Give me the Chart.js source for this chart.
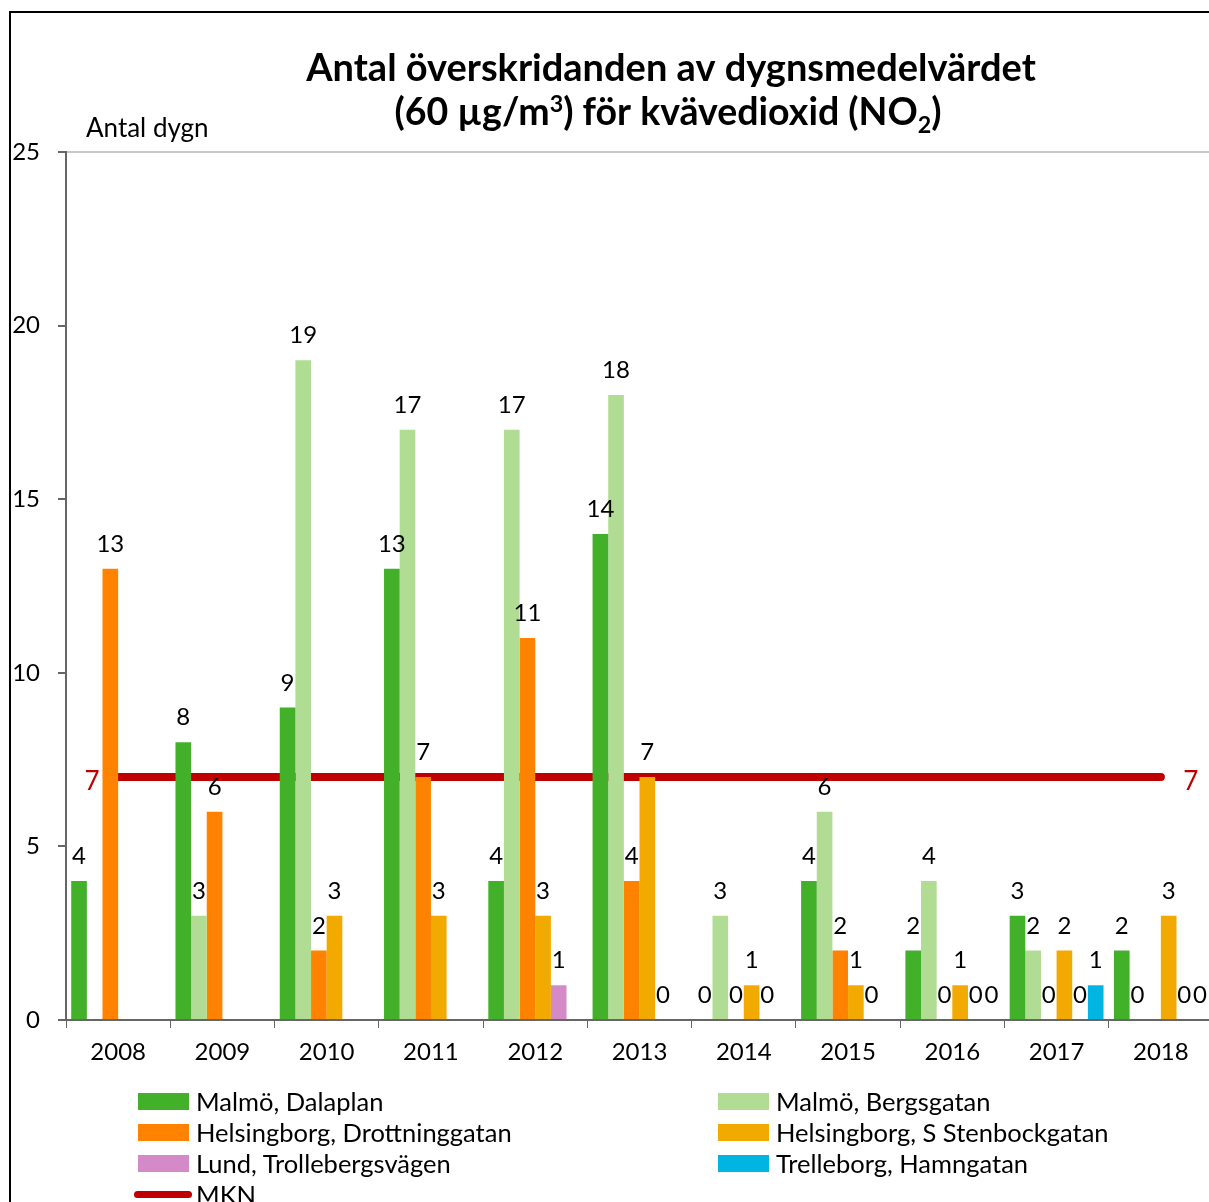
<!DOCTYPE html>
<html>
<head>
<meta charset="utf-8">
<script src="https://cdn.jsdelivr.net/npm/chart.js@4.4.0/dist/chart.umd.min.js"></script>
<style>
body { margin: 0; width: 1209px; height: 1202px; overflow: hidden; background: #fff; font-family: Lato, sans-serif; }
#frame { position: absolute; left: 9px; top: 11px; width: 1300px; height: 1300px; border-left: 2px solid #000; border-top: 2px solid #000; }
#wrap { position: absolute; left: 0; top: 0; width: 1209px; height: 1080px; overflow: hidden; }
#legend { position: absolute; left: 0; top: 0; width: 1209px; height: 1202px; pointer-events: none; }
.item { position: absolute; display: flex; align-items: center; font-size: 25.5px; color: #000; height: 30px; white-space: nowrap; }
.box { width: 51px; height: 17px; margin-right: 7px; }
.lineSwatch { width: 58px; height: 7px; border-radius: 4px; margin-right: 4px; margin-left: -4px; }
</style>
</head>
<body>
<div id="frame"></div>
<div id="wrap"><canvas id="chart" width="1213" height="1080"></canvas></div>
<div id="legend"></div>
<script>
const years = ["2008", "2009", "2010", "2011", "2012", "2013", "2014", "2015", "2016", "2017", "2018"];
const dalaplan = [4, 8, 9, 13, 4, 14, 0, 4, 2, 3, 2];
const bergsgatan = [null, 3, 19, 17, 17, 18, 3, 6, 4, 2, 0];
const drottninggatan = [13, 6, 2, 7, 11, 4, 0, 2, 0, 0, null];
const stenbockgatan = [null, null, 3, 3, 3, 7, 1, 1, 1, 2, 3];
const lund = [null, null, null, null, 1, 0, 0, 0, 0, 0, 0];
const trelleborg = [null, null, null, null, null, null, null, null, 0, 1, 0];
const mkn = [7, 7, 7, 7, 7, 7, 7, 7, 7, 7, 7];
const yTicks = [0, 5, 10, 15, 20, 25];

const FONT = "Lato, sans-serif";

// titel, axeltitel, etiketter
const labelPlugin = {
    id: "labels",
    afterDraw(chart) {
        const ctx = chart.ctx;
        ctx.save();
        ctx.fillStyle = "#000";

        // titel med upphöjt/nedsänkt
        const drawLine = (parts, cx, base, size) => {
            let total = 0;
            parts.forEach(p => {
                ctx.font = "bold " + (p[1] === "n" ? size : size * 0.62) + "px " + FONT;
                total += ctx.measureText(p[0]).width;
            });
            let x = cx - total / 2;
            ctx.textAlign = "left";
            ctx.textBaseline = "alphabetic";
            parts.forEach(p => {
                ctx.font = "bold " + (p[1] === "n" ? size : size * 0.62) + "px " + FONT;
                let y = base;
                if (p[1] === "sup") y = base - size * 0.36;
                if (p[1] === "sub") y = base + size * 0.2;
                ctx.fillText(p[0], x, y);
                x += ctx.measureText(p[0]).width;
            });
        };
        drawLine([["Antal överskridanden av dygnsmedelvärdet", "n"]], 671, 81, 38);
        drawLine([["(60 µg/m", "n"], ["3", "sup"], [") för kvävedioxid (NO", "n"], ["2", "sub"], [")", "n"]], 668, 125, 37.5);

        ctx.font = "26px " + FONT;
        ctx.textAlign = "left";
        ctx.fillText("Antal dygn", 86, 137);

        // värden över staplarna
        ctx.font = "24px " + FONT;
        ctx.textAlign = "center";
        chart.data.datasets.forEach((ds, i) => {
            if (ds.type === "line") return;
            const meta = chart.getDatasetMeta(i);
            meta.data.forEach((bar, j) => {
                const v = ds.data[j];
                if (v === null || v === undefined) return;
                ctx.fillText(String(v), bar.x, bar.y - 17);
            });
        });

        // MKN-etiketter
        const li = chart.data.datasets.findIndex(d => d.type === "line");
        const pts = chart.getDatasetMeta(li).data;
        ctx.fillStyle = "#c00000";
        ctx.font = "26px " + FONT;
        ctx.fillText(String(mkn[0]), pts[0].x - 26, pts[0].y + 13);
        ctx.fillText(String(mkn[mkn.length - 1]), pts[pts.length - 1].x + 30, pts[pts.length - 1].y + 13);
        ctx.restore();
    }
};

const chart = new Chart(document.getElementById("chart"), {
    type: "bar",
    data: {
        labels: years,
        datasets: [
            { label: "Malmö, Dalaplan", data: dalaplan, backgroundColor: "#43b02a" },
            { label: "Malmö, Bergsgatan", data: bergsgatan, backgroundColor: "#b0dd93" },
            { label: "Helsingborg, Drottninggatan", data: drottninggatan, backgroundColor: "#ff8200" },
            { label: "Helsingborg, S Stenbockgatan", data: stenbockgatan, backgroundColor: "#f2a900" },
            { label: "Lund, Trollebergsvägen", data: lund, backgroundColor: "#d58ac8" },
            { label: "Trelleborg, Hamngatan", data: trelleborg, backgroundColor: "#00b5e2" },
            {
                type: "line", label: "MKN", data: mkn,
                borderColor: "#c00000", backgroundColor: "#c00000",
                borderWidth: 8, pointRadius: 0, borderCapStyle: "round", order: 0
            }
        ]
    },
    options: {
        responsive: false,
        animation: false,
        layout: { autoPadding: false, padding: { left: 10, top: 152, right: 0, bottom: 0 } },
        datasets: { bar: { categoryPercentage: 0.9, barPercentage: 1, order: 1 } },
        plugins: { legend: { display: false }, tooltip: { enabled: false } },
        scales: {
            x: {
                grid: { color: "rgba(0,0,0,0)", tickColor: "#666", tickLength: 8, offset: true },
                border: { color: "#666", width: 2 },
                ticks: { color: "#000", font: { family: FONT, size: 24 }, padding: 10, maxRotation: 0 },
                afterFit: s => { s.height = 60; s.paddingLeft = 0; s.paddingRight = 0; }
            },
            y: {
                min: 0, max: 25,
                afterBuildTicks: s => { s.ticks = yTicks.map(v => ({ value: v })); },
                ticks: { color: "#000", font: { family: FONT, size: 24 }, padding: 18 },
                grid: { color: c => c.tick && c.tick.value === 25 ? "#c8c8c8" : "rgba(0,0,0,0)", tickColor: "#666", tickLength: 8, lineWidth: 2 },
                border: { color: "#666", width: 2 },
                afterFit: s => { s.width = 56; }
            }
        }
    },
    plugins: [labelPlugin]
});

// legend i två kolumner
const legend = document.getElementById("legend");
chart.data.datasets.forEach((ds, i) => {
    const col = i % 2, row = Math.floor(i / 2);
    const item = document.createElement("div");
    item.className = "item";
    item.style.left = (col === 0 ? 138 : 718) + "px";
    item.style.top = (1086 + row * 31) + "px";
    const sw = document.createElement("div");
    if (ds.type === "line") {
        sw.className = "lineSwatch";
        sw.style.background = ds.borderColor;
    } else {
        sw.className = "box";
        sw.style.background = ds.backgroundColor;
    }
    item.appendChild(sw);
    const t = document.createElement("span");
    t.textContent = ds.label;
    item.appendChild(t);
    legend.appendChild(item);
});
</script>
</body>
</html>
